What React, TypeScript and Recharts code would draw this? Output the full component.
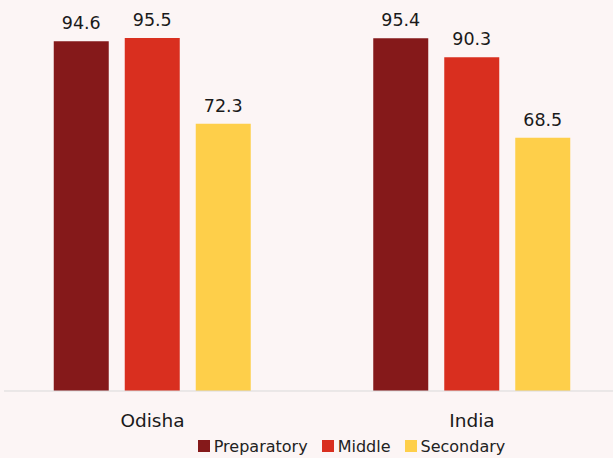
import React from 'react';
import { BarChart, Bar, XAxis, YAxis, Legend, LabelList } from 'recharts';

const regions = ['Odisha', 'India'];
const seriesNames = ['Preparatory', 'Middle', 'Secondary'];
const preparatory = [94.6, 95.4];
const middle = [95.5, 90.3];
const secondary = [72.3, 68.5];

const data = regions.map((region, i) => ({
  region,
  Preparatory: preparatory[i],
  Middle: middle[i],
  Secondary: secondary[i],
}));

const FONT = '"DejaVu Sans", "Noto Sans", sans-serif';

const renderLegend = (props: any) => {
  const payload = [...(props.payload || [])].sort(
    (a: any, b: any) => seriesNames.indexOf(a.value) - seriesNames.indexOf(b.value)
  );
  return (
    <div style={{ display: 'flex', justifyContent: 'center', alignItems: 'center', gap: 14, paddingLeft: 86, height: 24, fontFamily: FONT, fontSize: 16, color: '#222' }}>
      {payload.map((entry: any) => (
        <div key={entry.value} style={{ display: 'flex', alignItems: 'center' }}>
          <span style={{ display: 'inline-block', width: 12, height: 12, background: entry.color, marginRight: 4 }} />
          <span>{entry.value}</span>
        </div>
      ))}
    </div>
  );
};

export default function App() {
  return (
    <div style={{ position: 'absolute', left: 0, top: 0, width: 613, height: 458, background: '#fcf5f5', overflow: 'hidden' }}>
      <BarChart
        width={613}
        height={458}
        data={data}
        margin={{ top: 38, right: 0, left: 4, bottom: 0 }}
        barSize={55}
        barGap={16}
      >
        <XAxis
          dataKey="region"
          height={43}
          tickLine={false}
          tickMargin={17}
          axisLine={{ stroke: '#d9d9d9' }}
          padding={{ left: -11.25, right: -18.75 }}
          tick={{ fill: '#1a1a1a', fontSize: 18.5, fontFamily: FONT }}
        />
        <YAxis hide domain={[0, 'dataMax']} />
        <Legend verticalAlign="bottom" content={renderLegend} />
        <Bar dataKey="Preparatory" fill="#85191a" isAnimationActive={false}>
          <LabelList dataKey="Preparatory" position="top" offset={12} fill="#1a1a1a" fontSize={17.5} fontFamily={FONT} />
        </Bar>
        <Bar dataKey="Middle" fill="#d92f1f" isAnimationActive={false}>
          <LabelList dataKey="Middle" position="top" offset={12} fill="#1a1a1a" fontSize={17.5} fontFamily={FONT} />
        </Bar>
        <Bar dataKey="Secondary" fill="#fecf4a" isAnimationActive={false}>
          <LabelList dataKey="Secondary" position="top" offset={12} fill="#1a1a1a" fontSize={17.5} fontFamily={FONT} />
        </Bar>
      </BarChart>
    </div>
  );
}
